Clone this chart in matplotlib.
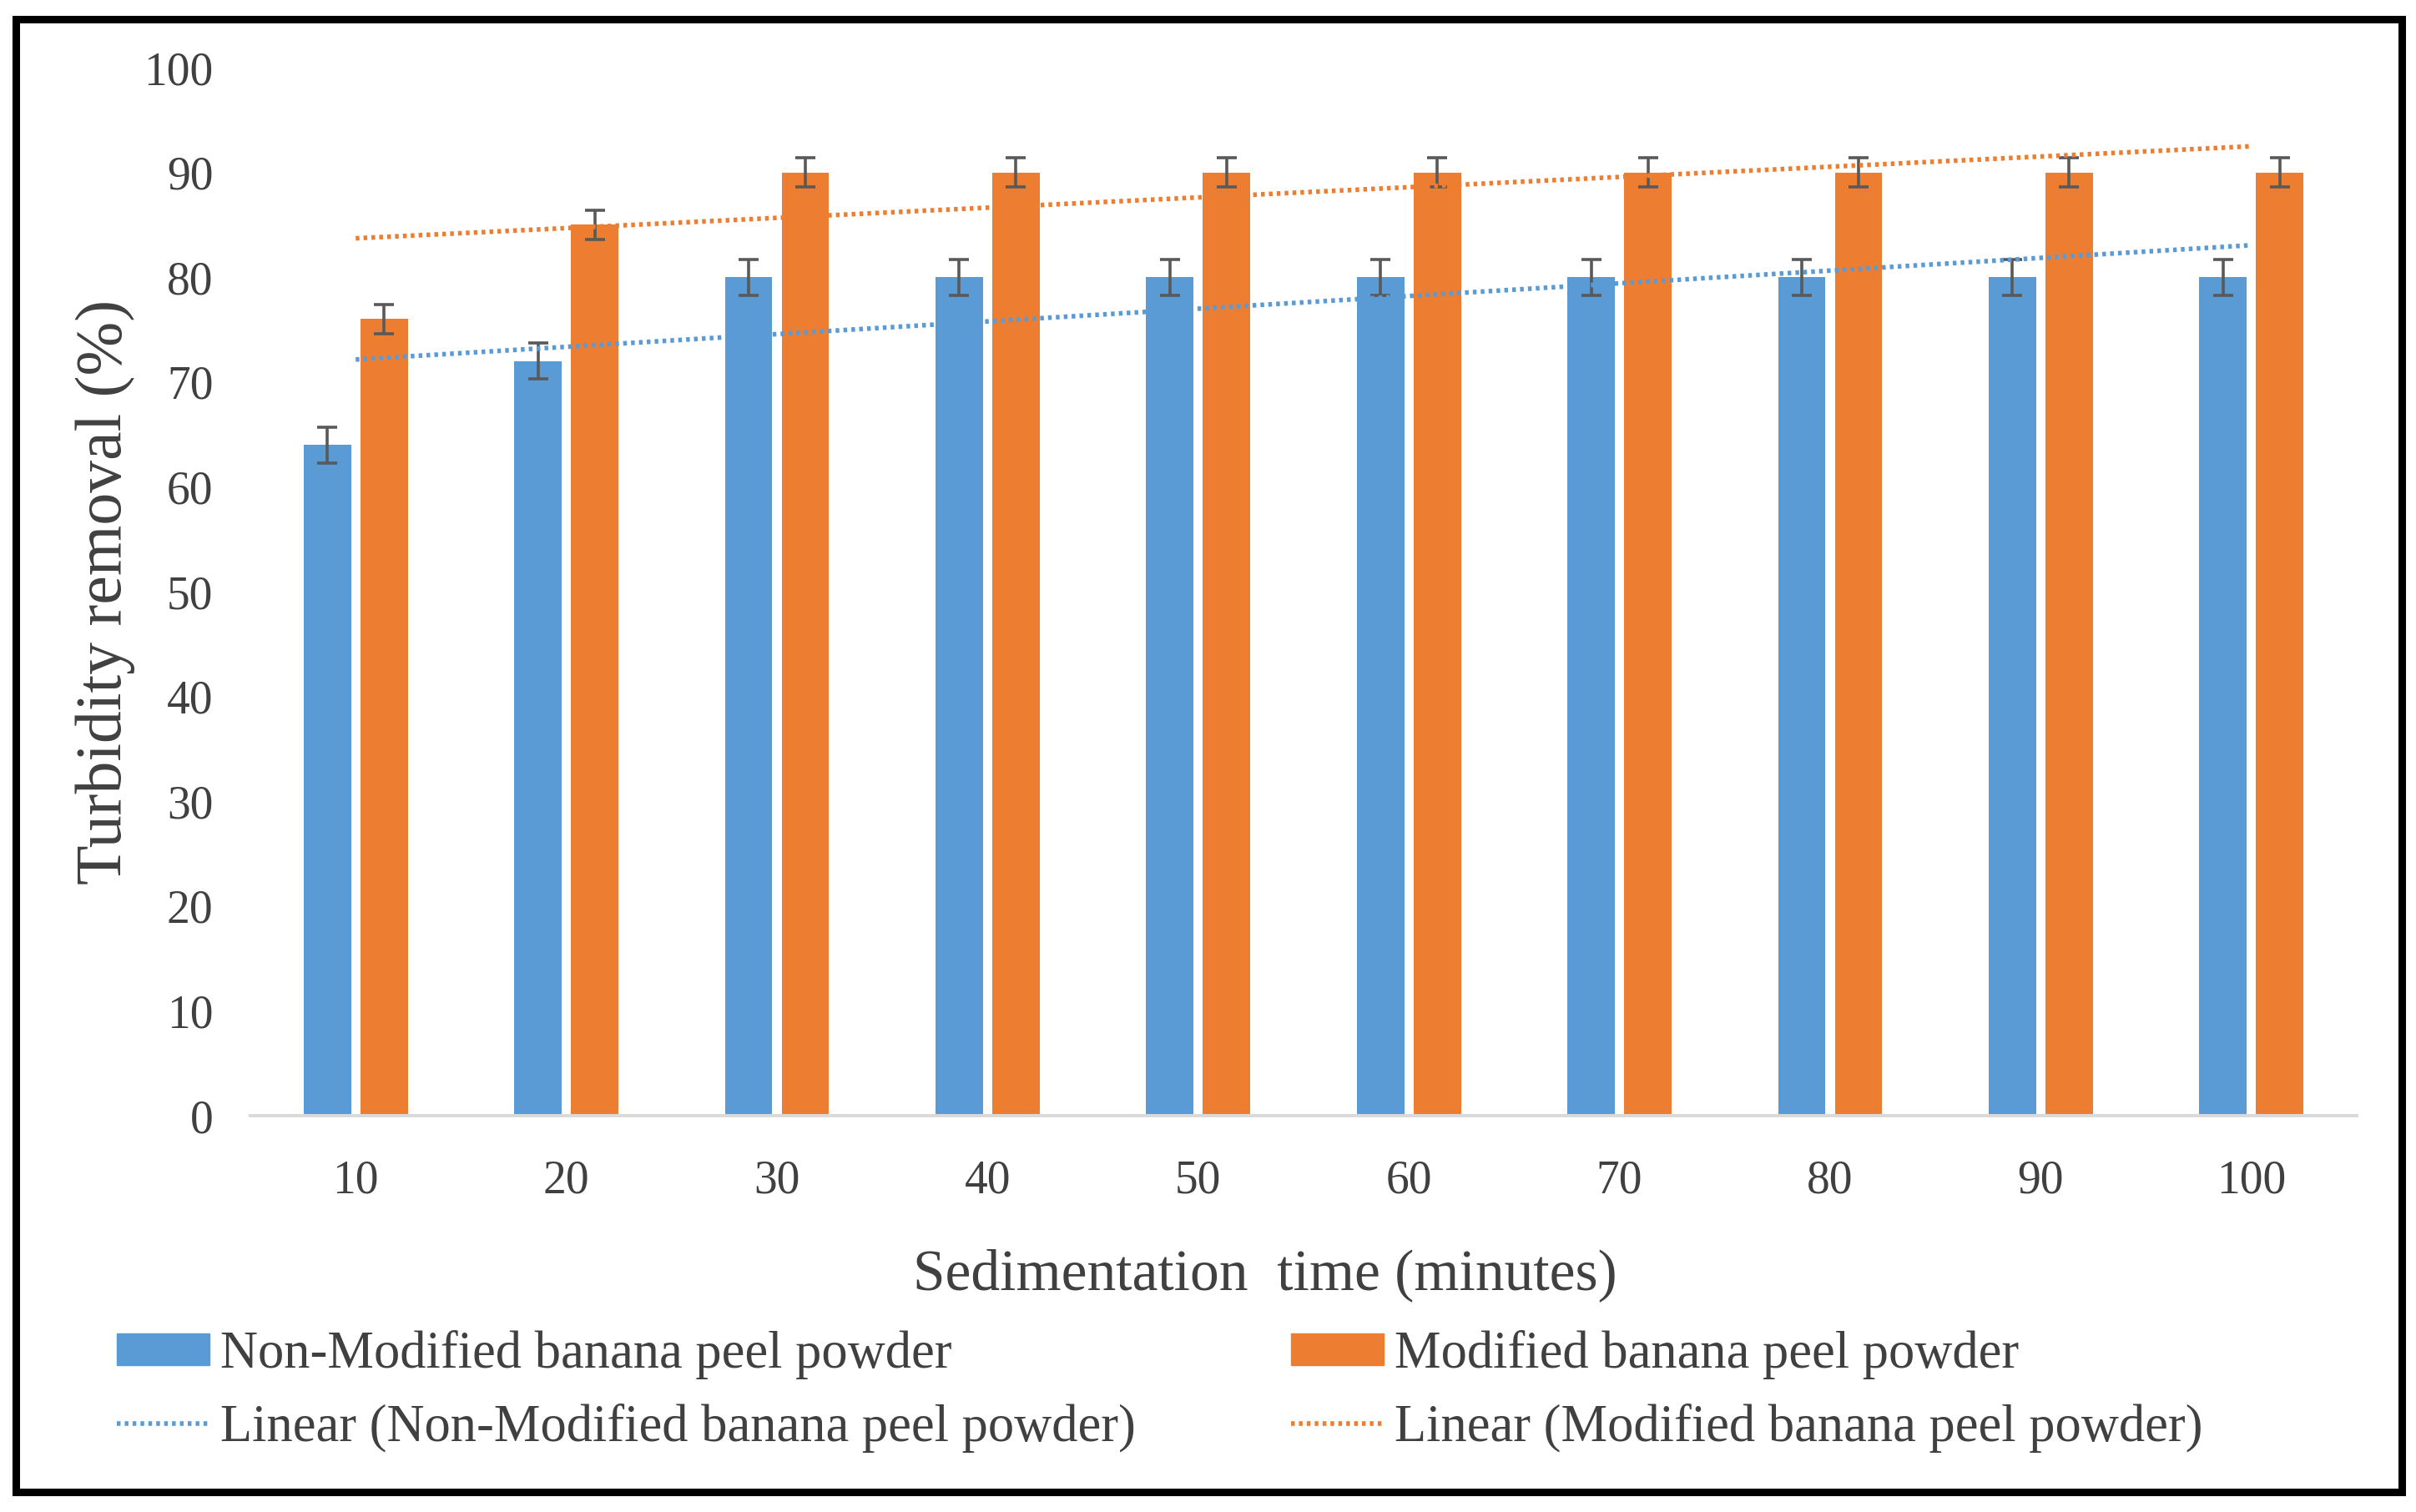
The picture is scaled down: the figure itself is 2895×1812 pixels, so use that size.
import numpy as np
import matplotlib
matplotlib.use('Agg')
import matplotlib.pyplot as plt
from matplotlib.patches import Rectangle, Patch
from matplotlib.lines import Line2D

plt.rcParams['font.family'] = ['Liberation Serif', 'DejaVu Serif']

times = [10, 20, 30, 40, 50, 60, 70, 80, 90, 100]
non_modified = [64, 72, 80, 80, 80, 80, 80, 80, 80, 80]
modified = [76, 85, 90, 90, 90, 90, 90, 90, 90, 90]
err_non = [1.7] * 10
err_mod = [1.4] * 10

lab_non = 'Non-Modified banana peel powder'
lab_mod = 'Modified banana peel powder'

blue = '#5B9BD5'
orange = '#ED7D31'
txt = '#404040'

W, H = 2895, 1812
fig = plt.figure(figsize=(W / 100, H / 100), dpi=100)
ax = fig.add_axes([300 / W, 1 - 1337 / H, (2824 - 300) / W, (1337 - 81) / H])

x = np.arange(len(times))
bw = 0.225
off = 0.135
ax.bar(x - off, non_modified, bw, color=blue, zorder=2)
ax.bar(x + off, modified, bw, color=orange, zorder=2)
ekw = dict(fmt='none', ecolor='#595959', elinewidth=2.6, capsize=8.5, capthick=2.6, zorder=3)
ax.errorbar(x - off, non_modified, yerr=err_non, **ekw)
ax.errorbar(x + off, modified, yerr=err_mod, **ekw)

# linear trend lines (like Excel)
xf = np.arange(1, len(times) + 1)
p1 = np.polyfit(xf, non_modified, 1)
p2 = np.polyfit(xf, modified, 1)
lw_tr = 4.0
ax.plot(x, np.polyval(p1, xf), color=blue, lw=lw_tr, dashes=(0.8, 0.9), zorder=4)
ax.plot(x, np.polyval(p2, xf), color=orange, lw=lw_tr, dashes=(0.8, 0.9), zorder=4)

ax.set_xlim(-0.5, len(times) - 0.5)
ax.set_ylim(0, 100)
ax.set_yticks(np.arange(0, 101, 10))
ax.set_xticks(x)
ax.set_xticklabels([str(t) for t in times])
ax.tick_params(axis='both', length=0, labelsize=40, colors=txt)
ax.tick_params(axis='y', pad=32)
ax.tick_params(axis='x', pad=38)
for s in ['top', 'right', 'left']:
    ax.spines[s].set_visible(False)
ax.spines['bottom'].set_color('#d9d9d9')
ax.spines['bottom'].set_linewidth(2.8)

ax.set_ylabel('Turbidity removal (%)', fontsize=56, color=txt, va='center')
ax.yaxis.set_label_coords((126 - 300) / (2824 - 300), 0.5)
ax.set_xlabel('Sedimentation  time (minutes)', fontsize=50, color=txt, va='center')
ax.xaxis.set_label_coords((1516 - 300) / (2824 - 300), (1337 - 1528) / (1337 - 81))

# legend, two columns
lkw = dict(loc='upper left', frameon=False, fontsize=45, labelcolor=txt,
           handlelength=1.78, handleheight=0.54, handletextpad=0.2,
           labelspacing=0.46, borderaxespad=0, borderpad=0)
h1 = [Patch(color=blue), Line2D([], [], color=blue, lw=lw_tr, dashes=(0.8, 0.9))]
h2 = [Patch(color=orange), Line2D([], [], color=orange, lw=lw_tr, dashes=(0.8, 0.9))]
fig.legend(h1, [lab_non, 'Linear (' + lab_non + ')'], bbox_to_anchor=(140 / W, 1 - 1594 / H), **lkw)
fig.legend(h2, [lab_mod, 'Linear (' + lab_mod + ')'], bbox_to_anchor=(1547 / W, 1 - 1594 / H), **lkw)

# outer frame
fig.patches.append(Rectangle((18.5 / W, 1 - 1788 / H), (2877.5 - 18.5) / W, (1788 - 22.5) / H,
                             transform=fig.transFigure, fill=False, ec='black', lw=6.5))

fig.savefig('out.png', dpi=100, facecolor='white')
